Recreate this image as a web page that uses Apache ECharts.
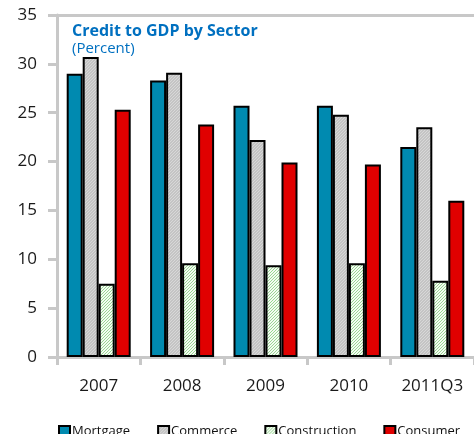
<!DOCTYPE html>
<html>
<head>
<meta charset="utf-8">
<script src="https://cdn.jsdelivr.net/npm/echarts@6/dist/echarts.min.js"></script>
<style>
  html, body { margin: 0; padding: 0; background: #fff; }
  #chart { width: 474px; height: 434px; }
</style>
</head>
<body>
<div id="chart"></div>
<script>
const categories = ['2007', '2008', '2009', '2010', '2011Q3'];
const mortgage = [29.0, 28.3, 25.7, 25.7, 21.5];
const commerce = [30.7, 29.1, 22.2, 24.8, 23.5];
const construction = [7.5, 9.6, 9.4, 9.6, 7.8];
const consumer = [25.3, 23.8, 19.9, 19.7, 16.0];
const yTicks = [0, 5, 10, 15, 20, 25, 30, 35];

// small pixel-drawn diagonal hatch tiles used as bar fills
function hatch(bg, line, size) {
  const c = document.createElement('canvas');
  c.width = size; c.height = size;
  const g = c.getContext('2d');
  g.fillStyle = bg; g.fillRect(0, 0, size, size);
  g.fillStyle = line;
  for (let i = 0; i < size; i++) g.fillRect(size - 1 - i, i, 1, 1);
  return { image: c, repeat: 'repeat' };
}

const fills = {
  Mortgage: '#008AB0',
  Commerce: hatch('#C4C4C4', '#D8D8D8', 3),
  Construction: hatch('#F4FBF2', '#98D692', 3),
  Consumer: '#E00000'
};

function barSeries(name, data) {
  return {
    name: name,
    type: 'bar',
    data: data,
    barWidth: 16,
    barGap: '0%',
    itemStyle: { color: fills[name], borderColor: '#000', borderWidth: 2 }
  };
}

const series = [
  barSeries('Mortgage', mortgage),
  barSeries('Commerce', commerce),
  barSeries('Construction', construction),
  barSeries('Consumer', consumer)
];
// top rule of the plot at the axis maximum
series[0].markLine = {
  silent: true,
  symbol: 'none',
  label: { show: false },
  lineStyle: { color: '#C8C8C8', width: 3, type: 'solid' },
  data: [{ yAxis: yTicks[yTicks.length - 1] }]
};

const chart = echarts.init(document.getElementById('chart'));
chart.setOption({
  animation: false,
  backgroundColor: '#fff',
  textStyle: { fontFamily: 'Open Sans' },
  title: {
    text: 'Credit to GDP by Sector',
    subtext: '(Percent)',
    left: 67,
    top: 18,
    itemGap: 2,
    textStyle: { color: '#0070C0', fontSize: 16, fontWeight: 'bold', fontFamily: 'Open Sans' },
    subtextStyle: { color: '#0070C0', fontSize: 15, fontFamily: 'Open Sans' }
  },
  legend: {
    left: 53,
    top: 420,
    itemWidth: 11,
    itemHeight: 11,
    itemGap: 27,
    icon: 'rect',
    itemStyle: { borderColor: '#000', borderWidth: 2 },
    textStyle: { fontSize: 13, color: '#111', padding: [0, 0, 0, -3] },
    data: ['Mortgage', 'Commerce', 'Construction', 'Consumer']
  },
  grid: { left: 57, right: -10, top: 15, bottom: 77, containLabel: false },
  xAxis: {
    type: 'category',
    data: categories,
    axisLine: { lineStyle: { color: '#C8C8C8', width: 3 } },
    axisTick: { show: true, alignWithLabel: false, length: 8, lineStyle: { color: '#C8C8C8', width: 3 } },
    axisLabel: { color: '#1a1a1a', fontSize: 17, margin: 21 }
  },
  yAxis: {
    type: 'value',
    min: 0,
    max: 35,
    interval: 5,
    axisLine: { show: true, lineStyle: { color: '#C8C8C8', width: 3 } },
    axisTick: { show: true, length: 9, lineStyle: { color: '#C8C8C8', width: 3 } },
    axisLabel: { color: '#1a1a1a', fontSize: 17, margin: 20 },
    splitLine: { show: false }
  },
  series: series
});
</script>
</body>
</html>
